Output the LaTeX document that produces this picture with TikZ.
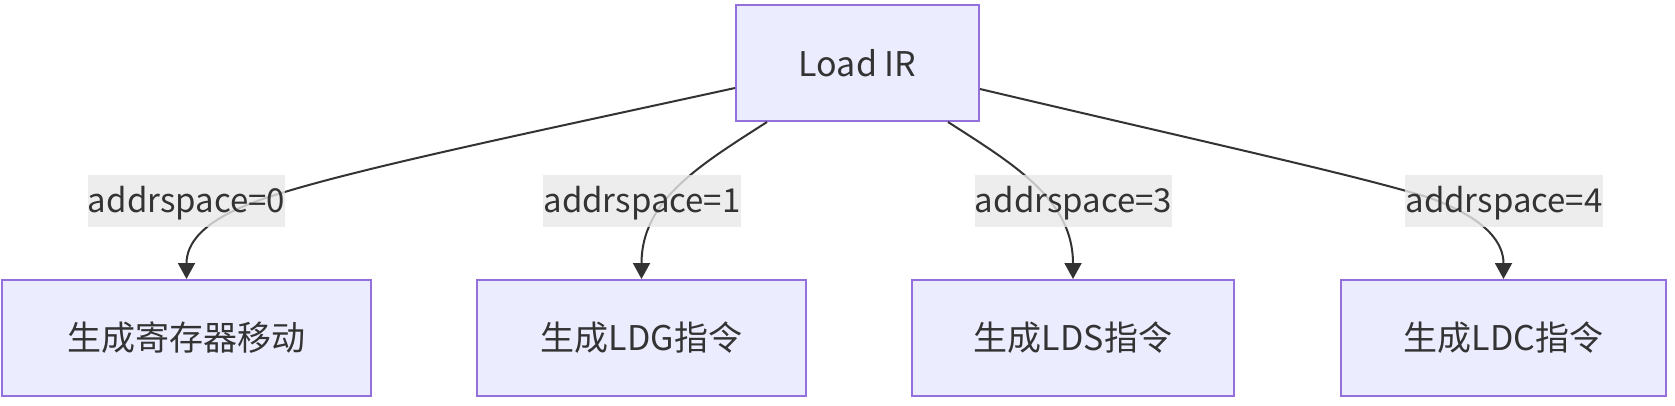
\documentclass[tikz,border=0pt]{standalone}
\usepackage{fontspec}
\setmainfont{Noto Sans CJK SC}
\usetikzlibrary{arrows.meta}
\definecolor{boxfill}{HTML}{ECECFF}
\definecolor{boxline}{HTML}{9370DB}
\definecolor{ink}{HTML}{333333}
\definecolor{lblfill}{HTML}{E8E8E8}
\begin{document}
\begin{tikzpicture}[x=1pt,y=-1pt,
  box/.style={draw=boxline, fill=boxfill, line width=2pt, inner sep=0pt,
    minimum height=116pt, font=\fontsize{34}{40}\selectfont, text=ink},
  lbl/.style={fill=lblfill, fill opacity=0.8, text opacity=1, inner sep=0pt,
    text height=30pt, text depth=8pt,
    minimum height=52pt, minimum width=193pt, font=\fontsize{33}{40}\selectfont, text=ink},
  conn/.style={draw=ink, line width=2pt, -{Triangle[width=17pt,length=16pt]}}]
\useasboundingbox (0,0) rectangle (1675,405);
\node[box, minimum width=243pt] (ir) at (857.5,63) {Load IR};
\node[box, minimum width=369pt] (b0) at (186.5,338) {生成寄存器移动};
\node[box, minimum width=329pt] (b1) at (641.5,338) {生成LDG指令};
\node[box, minimum width=322pt] (b3) at (1073,338) {生成LDS指令};
\node[box, minimum width=325pt] (b4) at (1503.5,338) {生成LDC指令};

\draw[conn] ([yshift=-25pt]ir.west) .. controls (520,135) and (340,172) .. (260,200)
   .. controls (200,221) and (186.5,245) .. (b0.north);
\draw[conn] ([xshift=-90.5pt]ir.south) .. controls (700,165) and (641.5,200) .. (b1.north);
\draw[conn] ([xshift=90.5pt]ir.south) .. controls (1015,165) and (1073,200) .. (b3.north);
\draw[conn] ([yshift=-26pt]ir.east) .. controls (1200,141) and (1360,176) .. (1430,198)
   .. controls (1490,220) and (1503.5,245) .. (b4.north);

\node[lbl] (l0) at (186.5,201) {addrspace=0};
\node[lbl, minimum width=194pt] (l1) at (642,201) {addrspace=1};
\node[lbl] (l3) at (1073.5,201) {addrspace=3};
\node[lbl, minimum width=194pt] (l4) at (1504,201) {addrspace=4};
\end{tikzpicture}
\end{document}
